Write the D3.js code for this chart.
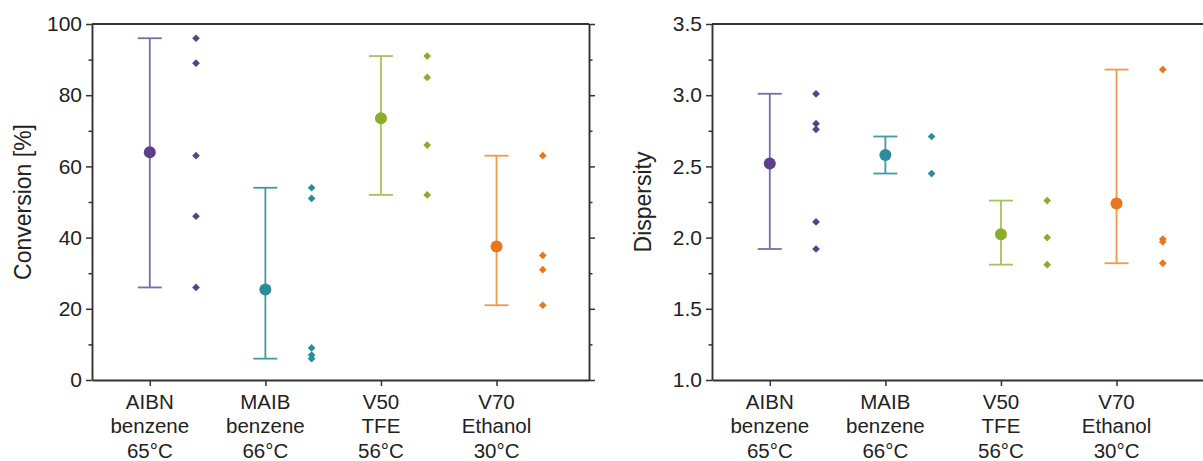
<!DOCTYPE html>
<html>
<head>
<meta charset="utf-8">
<script src="https://cdn.jsdelivr.net/npm/d3@7"></script>
<style>
  html, body { margin: 0; padding: 0; background: #fff; }
  svg { display: block; font-family: "Liberation Sans", Arial, sans-serif; }
</style>
</head>
<body>
<svg id="chart" width="1203" height="461"></svg>
<script>
// ---- data ----
const categories = ["AIBN\nbenzene\n65°C", "MAIB\nbenzene\n66°C", "V50\nTFE\n56°C", "V70\nEthanol\n30°C"];
const colors = ["#5b4088", "#2b8d9a", "#8aad2a", "#e8761c"];
const barColors = ["#7b6ca6", "#3f9ba6", "#a6c25a", "#f0984e"];

const conversionPoints = [
  [96, 89, 63, 46, 26],
  [54, 51, 9, 7, 6],
  [91, 85, 66, 52],
  [63, 35, 31, 21]
];
const dispersityPoints = [
  [3.01, 2.80, 2.76, 2.11, 1.92],
  [2.71, 2.45],
  [2.26, 2.00, 1.81],
  [3.18, 1.99, 1.97, 1.82]
];
const conversionTicks = [0, 20, 40, 60, 80, 100];
const conversionMinor = [10, 30, 50, 70, 90];
const dispersityTicks = [1.0, 1.5, 2.0, 2.5, 3.0, 3.5];
const dispersityMinor = [1.25, 1.75, 2.25, 2.75, 3.25];

const svg = d3.select("#chart");
const axisColor = "#333";

function panel(opts) {
  const { left, width, top, bottom, domain, ticks, minor, fmt, points, label, labelX, rightAxis } = opts;
  const g = svg.append("g");
  const x = d3.scaleLinear().domain([0.5, 4.8]).range([left, left + width]);
  const y = d3.scaleLinear().domain(domain).range([bottom, top]);

  // frame lines
  g.append("line").attr("x1", left).attr("x2", left + width).attr("y1", top).attr("y2", top)
    .attr("stroke", axisColor).attr("stroke-width", 1.9);
  if (rightAxis) {
    const ra = g.append("g").attr("transform", `translate(${left + width},0)`)
      .call(d3.axisRight(y).tickValues(ticks).tickSize(6).tickSizeOuter(0).tickFormat(""));
    ra.call(s => s.select(".domain").attr("stroke", axisColor).attr("stroke-width", 1.9));
    ra.selectAll(".tick line").attr("stroke", axisColor).attr("stroke-width", 1.5);
    const rm = g.append("g").attr("transform", `translate(${left + width},0)`)
      .call(d3.axisRight(y).tickValues(minor).tickSize(3.5).tickFormat(""));
    rm.select(".domain").remove();
    rm.selectAll(".tick line").attr("stroke", axisColor).attr("stroke-width", 1.5);
  }

  // left axis
  const la = g.append("g").attr("transform", `translate(${left},0)`)
    .call(d3.axisLeft(y).tickValues(ticks).tickSize(6).tickSizeOuter(0).tickPadding(4).tickFormat(fmt));
  la.select(".domain").attr("stroke", axisColor).attr("stroke-width", 1.9);
  la.selectAll(".tick line").attr("stroke", axisColor).attr("stroke-width", 1.5);
  la.selectAll(".tick text").attr("font-size", 21).attr("fill", "#222")
    .attr("font-family", "Liberation Sans, Arial, sans-serif");
  const lm = g.append("g").attr("transform", `translate(${left},0)`)
    .call(d3.axisLeft(y).tickValues(minor).tickSize(3.5).tickFormat(""));
  lm.select(".domain").remove();
  lm.selectAll(".tick line").attr("stroke", axisColor).attr("stroke-width", 1.5);

  // bottom axis
  const ba = g.append("g").attr("transform", `translate(0,${bottom})`)
    .call(d3.axisBottom(x).tickValues([1, 2, 3, 4]).tickSize(6).tickSizeOuter(0).tickFormat(""));
  ba.select(".domain").attr("stroke", axisColor).attr("stroke-width", 1.9);
  ba.selectAll(".tick line").attr("stroke", axisColor).attr("stroke-width", 1.5);
  categories.forEach((c, i) => {
    const t = g.append("text").attr("x", x(i + 1)).attr("y", bottom + 28.5)
      .attr("text-anchor", "middle").attr("font-size", 20.5).attr("fill", "#222");
    c.split("\n").forEach((ln, j) => {
      t.append("tspan").attr("x", x(i + 1)).attr("dy", j === 0 ? 0 : 24.5).text(ln);
    });
  });

  // y label
  g.append("text").attr("transform", `translate(${labelX},${(top + bottom) / 2}) rotate(-90)`)
    .attr("text-anchor", "middle").attr("dy", "0.35em").attr("font-size", 23).attr("fill", "#222")
    .text(label);

  // data
  points.forEach((vals, i) => {
    const mn = d3.min(vals), mx = d3.max(vals), mean = d3.mean(vals);
    const cx = x(i + 1);
    const eg = g.append("g").attr("stroke", barColors[i]).attr("stroke-width", 1.8);
    eg.append("line").attr("x1", cx).attr("x2", cx).attr("y1", y(mn)).attr("y2", y(mx));
    eg.append("line").attr("x1", cx - 12).attr("x2", cx + 12).attr("y1", y(mn)).attr("y2", y(mn));
    eg.append("line").attr("x1", cx - 12).attr("x2", cx + 12).attr("y1", y(mx)).attr("y2", y(mx));
    g.append("circle").attr("cx", cx).attr("cy", y(mean)).attr("r", 6).attr("fill", colors[i]);
    const sym = d3.symbol().type(d3.symbolDiamond2).size(38);
    vals.forEach(v => {
      g.append("path").attr("d", sym())
        .attr("transform", `translate(${x(i + 1.4)},${y(v)})`)
        .attr("fill", colors[i]);
    });
  });
}

panel({
  left: 92, width: 497, top: 24, bottom: 380, domain: [0, 100],
  ticks: conversionTicks, minor: conversionMinor, fmt: d3.format("d"),
  points: conversionPoints, label: "Conversion [%]", labelX: 23, rightAxis: true
});
panel({
  left: 712, width: 497, top: 24, bottom: 380, domain: [1.0, 3.5],
  ticks: dispersityTicks, minor: dispersityMinor, fmt: d3.format(".1f"),
  points: dispersityPoints, label: "Dispersity", labelX: 643, rightAxis: true
});
</script>
</body>
</html>
